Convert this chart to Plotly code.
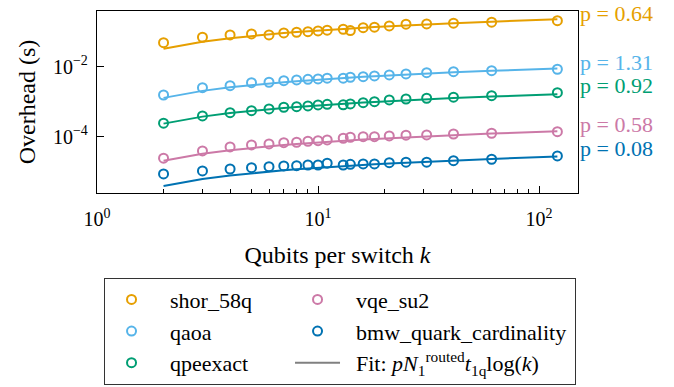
import numpy as np
import plotly.graph_objects as go

# Qubits per switch
k = [2, 3, 4, 5, 6, 7, 8, 9, 10, 11, 13, 14, 16, 18, 21, 25, 31, 41, 61, 121]

# Measured overhead (s) per benchmark
shor_58q = [0.0485, 0.0692, 0.0805, 0.0860, 0.0805, 0.0918, 0.0962, 0.100, 0.105, 0.110,
            0.117, 0.107, 0.130, 0.134, 0.146, 0.163, 0.166, 0.174, 0.186, 0.206]
qaoa = [0.00155, 0.00251, 0.00286, 0.00349, 0.00358, 0.00398, 0.00417, 0.00436, 0.00446, 0.00467,
        0.00470, 0.00498, 0.00518, 0.00542, 0.00579, 0.00618, 0.00674, 0.00720, 0.00769, 0.00843]
qpeexact = [2.42e-4, 3.90e-4, 4.85e-4, 5.53e-4, 6.18e-4, 6.92e-4, 7.20e-4, 7.53e-4, 8.05e-4, 8.40e-4,
            8.10e-4, 8.60e-4, 9.36e-4, 1.00e-3, 1.12e-3, 1.19e-3, 1.25e-3, 1.34e-3, 1.48e-3, 1.81e-3]
vqe_su2 = [2.42e-5, 3.90e-5, 5.08e-5, 5.79e-5, 6.18e-5, 6.74e-5, 6.92e-5, 7.39e-5, 7.69e-5, 8.05e-5,
           9.00e-5, 9.62e-5, 1.00e-4, 1.00e-4, 1.05e-4, 1.10e-4, 1.12e-4, 1.19e-4, 1.25e-4, 1.39e-4]
bmw_quark_cardinality = [8.6e-6, 1.05e-5, 1.19e-5, 1.30e-5, 1.39e-5, 1.46e-5, 1.48e-5, 1.55e-5, 1.55e-5, 1.74e-5,
                         1.55e-5, 1.62e-5, 1.66e-5, 1.66e-5, 1.81e-5, 1.86e-5, 1.86e-5, 2.06e-5, 2.26e-5, 2.81e-5]

# Fitted prefactor p*N1*t1q (s) of the model  p * N1 * t1q * log(k)
fit_coef = {
    "shor_58q": 0.047,
    "qaoa": 1.85e-3,
    "qpeexact": 3.4e-4,
    "vqe_su2": 2.97e-5,
    "bmw_quark_cardinality": 5.63e-6,
}
# Fitted p per benchmark
p_values = {
    "shor_58q": "0.64",
    "qaoa": "1.31",
    "qpeexact": "0.92",
    "vqe_su2": "0.58",
    "bmw_quark_cardinality": "0.08",
}

series = {
    "shor_58q": shor_58q,
    "qaoa": qaoa,
    "qpeexact": qpeexact,
    "vqe_su2": vqe_su2,
    "bmw_quark_cardinality": bmw_quark_cardinality,
}
colors = {
    "shor_58q": "#E69F00",
    "qaoa": "#56B4E9",
    "qpeexact": "#009E73",
    "vqe_su2": "#CC79A7",
    "bmw_quark_cardinality": "#0072B2",
}
# legend columns
group_of = {
    "shor_58q": "a", "qaoa": "a", "qpeexact": "a",
    "vqe_su2": "b", "bmw_quark_cardinality": "b",
}
legend_width = {"a": 126, "b": 225}

FONT = "Liberation Serif"
SP = "\u2002"

fig = go.Figure()

k_arr = np.array(k, dtype=float)

# fit curves (beneath markers)
for name, vals in series.items():
    fig.add_trace(go.Scatter(
        x=k, y=fit_coef[name] * np.log(k_arr),
        mode="lines", line=dict(color=colors[name], width=2),
        showlegend=False, hoverinfo="skip",
    ))

# measured points
for name in ["shor_58q", "qaoa", "qpeexact", "vqe_su2", "bmw_quark_cardinality"]:
    g = group_of[name]
    fig.add_trace(go.Scatter(
        x=k, y=series[name], mode="markers", name=SP + name,
        marker=dict(symbol="circle-open", size=9, color=colors[name],
                    line=dict(width=2, color=colors[name])),
        legendgroup=g, legendwidth=legend_width[g],
    ))

# legend entry for the fit model
fig.add_trace(go.Scatter(
    x=[None], y=[None], mode="lines",
    line=dict(color="#808080", width=2),
    name=SP + "Fit: <i>pN</i><sub>1</sub><sup>routed</sup><i>t</i><sub>1q</sub>log(<i>k</i>)",
    legendgroup="b", legendwidth=legend_width["b"],
))

# p labels at the right of each series
for name, vals in series.items():
    fig.add_annotation(
        x=1.003, xref="paper", y=np.log10(vals[-1]), yref="y",
        text="p = " + p_values[name], showarrow=False,
        xanchor="left", yanchor="middle", yshift=7, borderpad=0,
        font=dict(family=FONT, size=22, color=colors[name]),
    )

fig.update_xaxes(
    type="log", range=[0, np.log10(150)],
    tickvals=[1, 10, 100],
    ticktext=["10<sup>0</sup>", "10<sup>1</sup>", "10<sup>2</sup>"],
    ticks="inside", ticklen=7, tickwidth=1.3, tickcolor="black",
    minor=dict(tickvals=[2, 3, 4, 5, 6, 7, 8, 9, 20, 30, 40, 50, 60, 70, 80, 90],
               ticks="inside", ticklen=3.5, tickwidth=1, tickcolor="black"),
    showline=True, linecolor="black", linewidth=1.3, mirror=True,
    showgrid=False, zeroline=False,
    ticklabelstandoff=8,
    title=dict(text="Qubits per switch <i>k</i>", font=dict(family=FONT, size=24, color="black"),
               standoff=17),
    tickfont=dict(family=FONT, size=20, color="black"),
)
fig.update_yaxes(
    type="log", range=[-5.61, -0.41],
    tickvals=[1e-4, 1e-2],
    ticktext=["10<sup>\u22124</sup>", "10<sup>\u22122</sup>"],
    ticks="inside", ticklen=7, tickwidth=1.3, tickcolor="black",
    showline=True, linecolor="black", linewidth=1.3, mirror=True,
    showgrid=False, zeroline=False,
    ticklabelstandoff=4,
    title=dict(text="Overhead (s)", font=dict(family=FONT, size=24, color="black"), standoff=10),
    tickfont=dict(family=FONT, size=20, color="black"),
)

fig.update_layout(
    width=674, height=387,
    margin=dict(l=97, r=96, t=11, b=194, autoexpand=False),
    paper_bgcolor="white", plot_bgcolor="white",
    font=dict(family=FONT, size=22, color="black"),
    legend=dict(
        orientation="h", traceorder="grouped",
        x=0.0146, xanchor="left", y=-0.465, yanchor="top",
        bordercolor="#333333", borderwidth=1, bgcolor="white",
        itemwidth=45, font=dict(family=FONT, size=22, color="black"),
    ),
    showlegend=True,
)

fig.write_html("out.html")
